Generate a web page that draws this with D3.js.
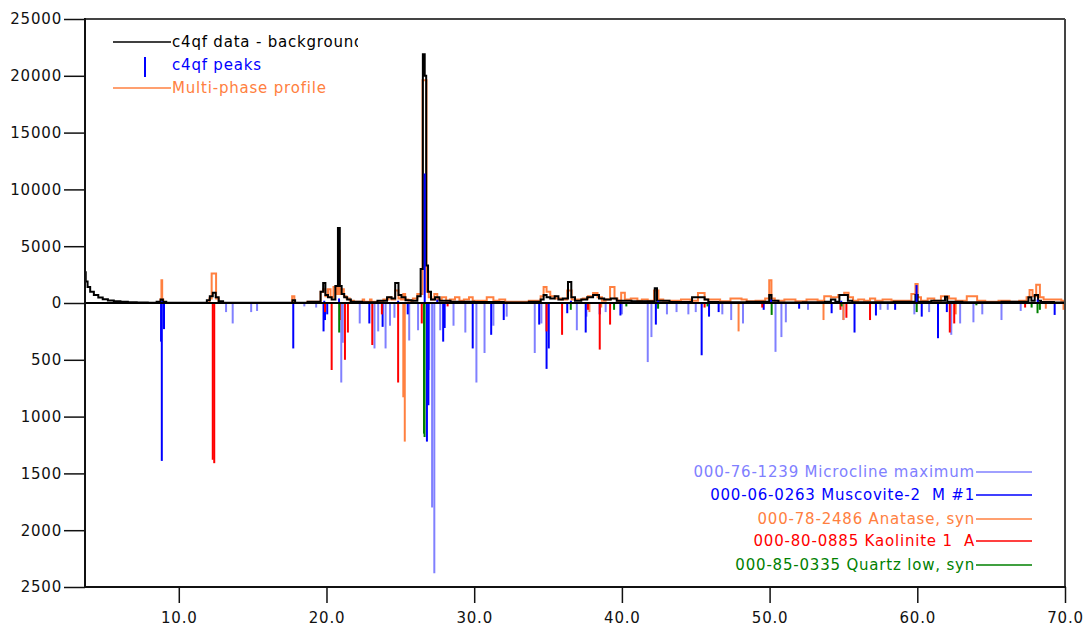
<!DOCTYPE html>
<html>
<head>
<meta charset="utf-8">
<script src="https://cdn.jsdelivr.net/npm/d3@7"></script>
<style>
  body { margin: 0; background: #fff; }
  svg { display: block; font-family: "DejaVu Sans", sans-serif; }
</style>
</head>
<body>
<div id="chart"></div>
<script>
const dataMinusBackground = [
  [3.65, 2700], [3.75, 1900], [3.9, 1400], [4.1, 1000], [4.4, 700], [4.7, 480], [5.0, 330],
  [5.4, 230], [5.8, 160], [6.3, 110], [6.8, 70], [7.5, 40], [8.3, 30], [8.7, 100], [8.85, 300],
  [9.0, 100], [9.3, 20], [11.8, 20], [12.0, 250], [12.2, 600], [12.4, 900], [12.6, 500],
  [12.8, 150], [13.2, 30], [17.6, 20], [17.8, 250], [17.95, 20], [19.5, 100], [19.7, 1000],
  [19.85, 1750], [20.0, 700], [20.2, 500], [20.5, 300], [20.7, 1500], [20.85, 6600], [20.95, 1500],
  [21.1, 800], [21.3, 500], [21.5, 300], [21.8, 100], [23.0, 60], [23.9, 200], [24.3, 500],
  [24.5, 400], [24.8, 1750], [24.95, 700], [25.2, 500], [25.5, 250], [26.0, 200], [26.3, 600],
  [26.45, 3000], [26.6, 21900], [26.7, 20000], [26.8, 3300], [26.95, 1000], [27.2, 300],
  [27.5, 500], [27.8, 200], [29.0, 100], [31.0, 80], [33.0, 50], [34.4, 100], [34.6, 300],
  [34.8, 700], [35.0, 500], [35.3, 400], [35.6, 600], [35.8, 300], [36.2, 400], [36.5, 1850],
  [36.65, 500], [37.0, 200], [37.5, 300], [37.8, 500], [38.3, 700], [38.6, 400], [39.0, 300],
  [39.5, 400], [39.8, 200], [41.5, 150], [42.15, 150], [42.3, 1300], [42.45, 200], [44.0, 80],
  [45.5, 500], [45.7, 300], [46.0, 80], [47.0, 60], [49.9, 100], [50.05, 700], [50.2, 200],
  [51.0, 50], [53.5, 60], [54.0, 100], [54.3, 300], [54.6, 100], [54.85, 700], [55.2, 700],
  [55.4, 200], [55.8, 60], [57.0, 60], [59.8, 100], [59.95, 700], [60.1, 100], [61.8, 200],
  [61.95, 550], [62.1, 100], [64.0, 60], [67.4, 100], [67.65, 500], [67.8, 200], [68.1, 700],
  [68.25, 200], [68.5, 80], [70.0, 50]
];

const multiPhaseProfile = [
  [3.65, 0], [8.7, 0], [8.8, 300], [8.85, 2000], [8.9, 300], [9.0, 0],
  [12.0, 0], [12.15, 400], [12.3, 2600], [12.45, 2600], [12.6, 400], [12.8, 0],
  [17.6, 0], [17.75, 600], [17.9, 0],
  [19.5, 100], [19.7, 1000], [19.85, 1200], [20.0, 600], [20.2, 1200], [20.35, 500], [20.6, 1400],
  [20.75, 800], [20.85, 4600], [20.95, 800], [21.1, 1200], [21.25, 600], [21.45, 400], [21.7, 200],
  [22.0, 100], [22.4, 100], [22.5, 300], [22.6, 100], [22.9, 100], [23.0, 300], [23.1, 100],
  [23.6, 100], [24.1, 300], [24.3, 500], [24.5, 300], [24.8, 1100], [24.95, 400], [25.15, 300],
  [25.25, 800], [25.4, 300], [25.7, 200], [26.0, 400], [26.3, 800], [26.45, 800], [26.55, 19600],
  [26.7, 19600], [26.85, 1000], [27.0, 500], [27.2, 300], [27.4, 800], [27.6, 300], [28.0, 500],
  [28.2, 200], [28.5, 300], [28.9, 500], [29.1, 200], [29.5, 300], [29.8, 500], [30.0, 200],
  [30.5, 200], [31.2, 500], [31.4, 200], [32.0, 300], [32.2, 100], [33.0, 100], [34.4, 200],
  [34.6, 600], [34.8, 1400], [35.0, 1000], [35.3, 600], [35.7, 400], [36.1, 300], [36.5, 1100],
  [36.7, 300], [37.2, 300], [37.5, 400], [37.9, 600], [38.2, 880], [38.5, 500], [38.8, 200],
  [39.0, 300], [39.4, 1400], [39.6, 400], [39.8, 200], [40.1, 900], [40.3, 300], [40.9, 400],
  [41.2, 200], [41.5, 300], [42.0, 200], [42.35, 1100], [42.6, 300], [43.0, 200], [43.5, 200],
  [44.5, 300], [44.8, 200], [45.5, 880], [45.7, 300], [46.5, 300], [46.8, 150], [47.9, 400],
  [48.3, 300], [48.6, 150], [49.5, 200], [49.9, 400], [50.05, 2000], [50.2, 400], [50.5, 200],
  [51.5, 300], [52.0, 150], [53.0, 300], [53.5, 200], [53.9, 600], [54.4, 500], [54.9, 700],
  [55.2, 900], [55.5, 500], [55.8, 200], [56.2, 300], [56.6, 200], [57.0, 400], [57.3, 200],
  [58.0, 300], [58.5, 200], [59.4, 200], [59.8, 800], [59.95, 1670], [60.1, 500], [60.4, 200],
  [61.0, 400], [61.3, 200], [61.9, 600], [62.4, 400], [62.8, 200], [63.9, 600], [64.2, 200],
  [65.0, 100], [66.0, 200], [66.5, 100], [67.3, 200], [67.5, 500], [67.7, 1150], [67.9, 600],
  [68.2, 1600], [68.4, 500], [68.7, 300], [69.0, 300], [69.5, 300], [70.0, 200]
];

const c4qfPeaks = [
  [8.85, 150], [19.85, 200], [20.85, 400], [24.85, 200], [26.65, 11400], [27.5, 300],
  [36.55, 200], [42.45, 200], [50.1, 300], [54.85, 200], [59.95, 1580], [68.15, 300]
];

// reference stick patterns (2-theta, scaled intensity, drawn downward)
const microcline = [
  [13.2, 80], [13.65, 180], [14.9, 80], [15.3, 70], [18.5, 30], [19.3, 40], [21.0, 700],
  [21.1, 350], [22.25, 180], [23.25, 400], [23.5, 250], [24.0, 400], [24.3, 200], [24.6, 130],
  [25.6, 330], [26.2, 240], [26.95, 590], [27.15, 1800], [27.3, 2380], [27.7, 240], [28.6, 200],
  [29.4, 260], [30.15, 700], [30.7, 440], [31.3, 200], [32.2, 120], [34.1, 440], [34.55, 180],
  [36.95, 240], [37.6, 120], [38.9, 80], [40.0, 100], [41.75, 520], [42.0, 300], [43.05, 100],
  [43.7, 80], [44.5, 100], [45.0, 80], [46.8, 100], [47.4, 150], [48.2, 180], [50.4, 430],
  [50.8, 300], [51.1, 170], [52.6, 60], [55.0, 150], [57.5, 60], [58.0, 60], [59.8, 100],
  [60.8, 80], [62.3, 280], [62.9, 180], [63.8, 170], [64.4, 100], [65.7, 150], [67.0, 70]
];

const muscovite = [
  [8.8, 340], [8.85, 1390], [9.0, 230], [17.75, 400], [19.8, 250], [19.9, 150], [20.05, 100],
  [22.9, 180], [23.8, 210], [25.5, 100], [26.8, 1220], [26.9, 900], [27.9, 340], [28.0, 220],
  [29.9, 400], [31.15, 280], [32.0, 150], [34.4, 190], [34.9, 580], [35.05, 400], [36.3, 90],
  [37.55, 260], [38.5, 100], [39.9, 110], [42.3, 190], [45.4, 460], [45.9, 120], [46.55, 80],
  [49.6, 60], [52.0, 50], [54.2, 90], [55.75, 260], [57.2, 110], [58.5, 60], [60.3, 120],
  [61.4, 310], [62.0, 80], [69.3, 105]
];

const anatase = [
  [25.2, 830], [25.3, 1220], [37.8, 80], [38.6, 40], [47.9, 250], [53.65, 150], [55.0, 150],
  [62.6, 100], [68.7, 50], [69.9, 60]
];

const kaolinite = [
  [12.3, 1380], [12.4, 1410], [19.9, 80], [20.35, 590], [20.9, 150], [21.25, 500], [21.45, 260],
  [23.1, 370], [23.75, 100], [24.85, 700], [26.45, 180], [28.2, 30], [34.9, 250], [35.95, 280],
  [37.7, 60], [38.5, 410], [39.2, 190], [45.6, 40], [49.5, 40], [54.8, 60], [55.2, 130],
  [56.8, 150], [62.2, 260], [62.5, 180], [67.3, 40]
];

const quartz = [
  [20.86, 260], [26.6, 1150], [26.64, 1180], [36.54, 60], [39.47, 60], [40.3, 30], [42.45, 50],
  [45.8, 30], [50.14, 105], [54.87, 30], [59.96, 80], [64.0, 20], [67.74, 40], [68.14, 90], [68.3, 60]
];

const upTicks = [0, 5000, 10000, 15000, 20000, 25000];
const downTicks = [500, 1000, 1500, 2000, 2500];
const xTicks = [10, 20, 30, 40, 50, 60, 70];

const phases = [
  { name: '000-76-1239 Microcline maximum', color: '#8080ff', sticks: microcline },
  { name: '000-06-0263 Muscovite-2  M #1', color: '#0000ff', sticks: muscovite },
  { name: '000-78-2486 Anatase, syn', color: '#ff8040', sticks: anatase },
  { name: '000-80-0885 Kaolinite 1  A', color: '#ff0000', sticks: kaolinite },
  { name: '000-85-0335 Quartz low, syn', color: '#008000', sticks: quartz }
];

const W = 1091, H = 629;
const FONT = '15px';
const svg = d3.select('#chart').append('svg')
  .attr('width', W).attr('height', H);

const x = d3.scaleLinear().domain([3.65, 70]).range([85, 1065]);
const yUp = d3.scaleLinear().domain([0, 25000]).range([303, 19]);
const yDown = d3.scaleLinear().domain([0, 2500]).range([303, 587]);

svg.append('clipPath').attr('id', 'plot')
  .append('rect').attr('x', 85).attr('y', 19).attr('width', 980).attr('height', 568);
svg.append('clipPath').attr('id', 'legclip')
  .append('rect').attr('x', 0).attr('y', 0).attr('width', 358).attr('height', 100);

const plot = svg.append('g').attr('clip-path', 'url(#plot)');

// reference sticks, below zero
phases.forEach(p => {
  plot.append('g')
    .selectAll('line')
    .data(p.sticks)
    .join('line')
    .attr('x1', d => x(d[0])).attr('x2', d => x(d[0]))
    .attr('y1', yDown(0)).attr('y2', d => yDown(d[1]))
    .attr('stroke', p.color)
    .attr('stroke-width', 2);
});

// profile + data above zero
const line = d3.line()
  .x(d => x(d[0]))
  .y(d => yUp(d[1]))
  .curve(d3.curveStep);

plot.append('path').datum(multiPhaseProfile)
  .attr('d', line).attr('fill', 'none')
  .attr('stroke', '#ff8040').attr('stroke-width', 2);

plot.append('path').datum(dataMinusBackground)
  .attr('d', line).attr('fill', 'none')
  .attr('stroke', '#000').attr('stroke-width', 2);

plot.append('g')
  .selectAll('line')
  .data(c4qfPeaks)
  .join('line')
  .attr('x1', d => x(d[0])).attr('x2', d => x(d[0]))
  .attr('y1', yUp(0)).attr('y2', d => yUp(d[1]))
  .attr('stroke', '#0000ff').attr('stroke-width', 2);

// zero line
plot.append('line')
  .attr('x1', 85).attr('x2', 1065)
  .attr('y1', yUp(0)).attr('y2', yUp(0))
  .attr('stroke', '#000').attr('stroke-width', 2);

// frame
svg.append('line').attr('x1', 85).attr('x2', 1065).attr('y1', 19).attr('y2', 19)
  .attr('stroke', '#444').attr('stroke-width', 2);
svg.append('line').attr('x1', 1065).attr('x2', 1065).attr('y1', 19).attr('y2', 587)
  .attr('stroke', '#444').attr('stroke-width', 2);
svg.append('line').attr('x1', 85).attr('x2', 85).attr('y1', 18).attr('y2', 588)
  .attr('stroke', '#111').attr('stroke-width', 2);
svg.append('line').attr('x1', 84).attr('x2', 1066).attr('y1', 587).attr('y2', 587)
  .attr('stroke', '#111').attr('stroke-width', 2);

// axes
function styleAxis(g) {
  g.select('.domain').remove();
  g.selectAll('.tick line').attr('stroke', '#111').attr('stroke-width', 1.5);
  g.selectAll('.tick text').attr('fill', '#111')
    .style('font-size', FONT).style('letter-spacing', '0.8px')
    .style('font-family', '"DejaVu Sans", sans-serif');
}

svg.append('g').attr('transform', 'translate(85,0)')
  .call(d3.axisLeft(yUp).tickValues(upTicks).tickSize(21).tickPadding(2).tickFormat(d3.format('d')))
  .call(styleAxis);

svg.append('g').attr('transform', 'translate(85,0)')
  .call(d3.axisLeft(yDown).tickValues(downTicks).tickSize(21).tickPadding(2).tickFormat(d3.format('d')))
  .call(styleAxis);

svg.append('g').attr('transform', 'translate(0,587)')
  .call(d3.axisBottom(x).tickValues(xTicks).tickSize(16).tickPadding(9).tickFormat(d3.format('.1f')))
  .call(styleAxis);

// top-left legend
const leg = svg.append('g').style('font-size', FONT).style('letter-spacing', '0.8px');
leg.append('line').attr('x1', 113).attr('x2', 171).attr('y1', 42).attr('y2', 42)
  .attr('stroke', '#000').attr('stroke-width', 1.5);
leg.append('text').attr('x', 172).attr('y', 47).attr('fill', '#000')
  .attr('clip-path', 'url(#legclip)')
  .text('c4qf data - background');
leg.append('line').attr('x1', 145).attr('x2', 145).attr('y1', 57).attr('y2', 77)
  .attr('stroke', '#0000ff').attr('stroke-width', 2);
leg.append('text').attr('x', 172).attr('y', 70).attr('fill', '#0000ff').text('c4qf peaks');
leg.append('line').attr('x1', 113).attr('x2', 171).attr('y1', 88).attr('y2', 88)
  .attr('stroke', '#ff8040').attr('stroke-width', 1.5);
leg.append('text').attr('x', 172).attr('y', 93).attr('fill', '#ff8040').text('Multi-phase profile');

// bottom-right legend of reference patterns
const legY = [472, 495, 519, 541, 565];
const pleg = svg.append('g').style('font-size', FONT).style('letter-spacing', '0.8px');
phases.forEach((p, i) => {
  pleg.append('line').attr('x1', 976).attr('x2', 1032).attr('y1', legY[i]).attr('y2', legY[i])
    .attr('stroke', p.color).attr('stroke-width', 1.5);
  pleg.append('text').attr('x', 975).attr('y', legY[i] + 5)
    .attr('text-anchor', 'end').attr('fill', p.color)
    .style('white-space', 'pre')
    .text(p.name);
});
</script>
</body>
</html>
